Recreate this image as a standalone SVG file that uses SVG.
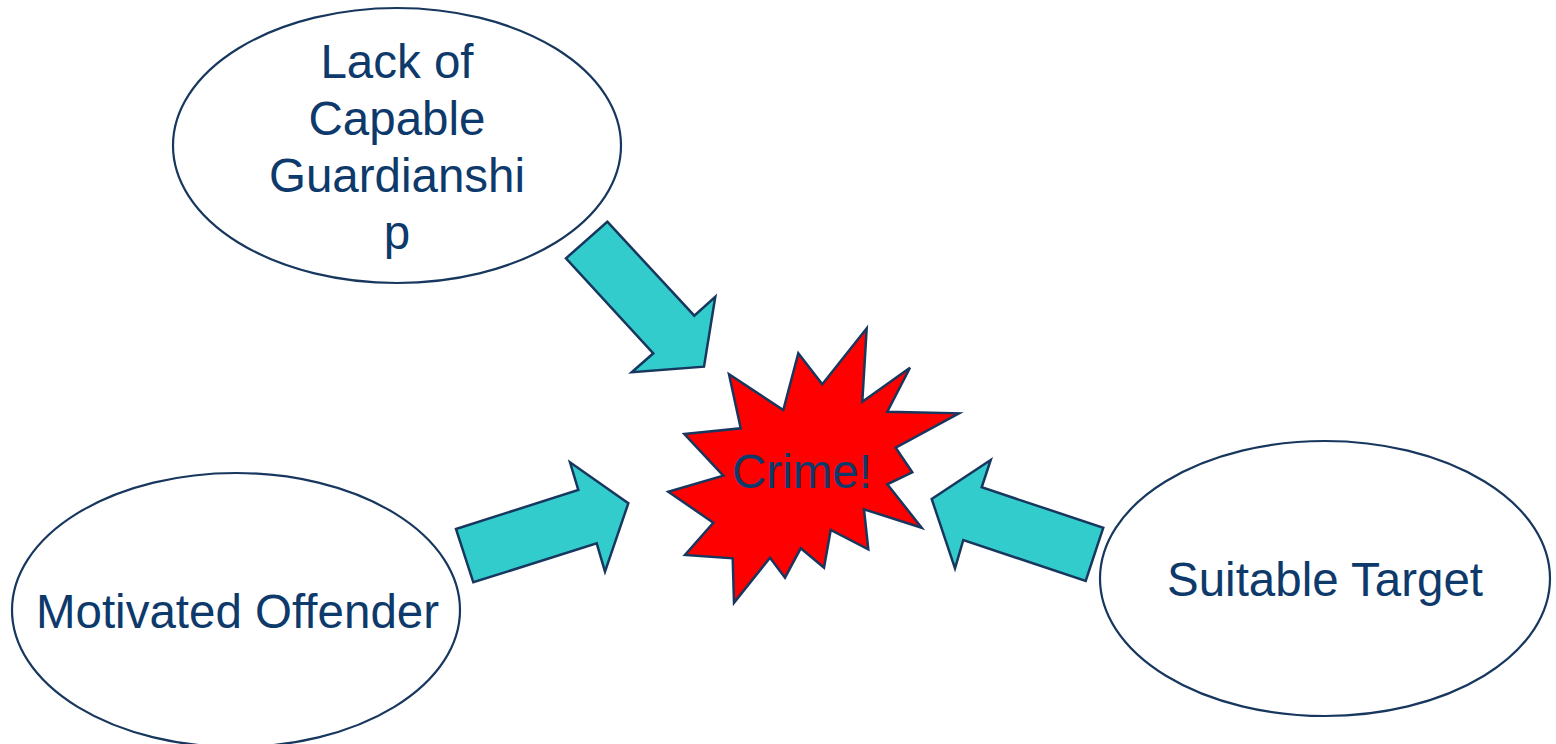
<svg xmlns="http://www.w3.org/2000/svg" width="1556" height="744" viewBox="0 0 1556 744">
<style>
.ell{fill:#FFFFFF;stroke:#17375E;stroke-width:2.2}
.arr{fill:#33CCCC;stroke:#17375E;stroke-width:2.5;stroke-linejoin:miter}
.star{fill:#FF0000;stroke:#17375E;stroke-width:2.5}
.t{font-family:"Liberation Sans",Arial,sans-serif;font-size:47.5px;fill:#0E3A6B;text-anchor:middle}
</style>
<rect width="1556" height="744" fill="#FFFFFF"/>
<g id="connectors">
<polygon class="arr" points="607.3,221.7 694.3,315.7 715.3,296.7 704,366.7 631.7,372.3 653.3,353.3 566,258.3"/>
<polygon class="arr" points="456,529 578.3,490 570,462.3 628.3,503.3 605,571.7 596.7,543.3 473.3,582.3"/>
<polygon class="arr" points="1103.3,527.7 1085.7,581 963.3,540 955,568.3 931.7,499 990.7,460 981.7,487.3"/>
</g>
<g id="guardianship">
<ellipse class="ell" cx="397" cy="145.5" rx="224" ry="137.5"/>
<text class="t" x="397" y="78">Lack of</text>
<text class="t" x="397" y="135">Capable</text>
<text class="t" x="397" y="192">Guardianshi</text>
<text class="t" x="397" y="249">p</text>
</g>
<g id="offender">
<ellipse class="ell" cx="236" cy="610" rx="224" ry="137"/>
<text class="t" x="237.5" y="628">Motivated Offender</text>
</g>
<g id="target">
<ellipse class="ell" cx="1325" cy="578.5" rx="225" ry="137.5"/>
<text class="t" x="1325" y="596">Suitable Target</text>
</g>
<g id="crime">
<polygon class="star" points="866.7,328.3 862.3,401.7 910,367.7 887.3,411.7 959,413.3 895.7,447.7 912.3,472.3 887.3,484.3 921.7,527.7 864,509.3 868.3,549.3 830.7,530 824,567.7 800.7,548.3 785,577.7 770,557.7 734,602.7 732.7,558.3 685,555 713.3,522.7 668.3,491.7 723.3,475.7 684.3,434 740.7,428.3 729,374.3 783.3,410 798.3,353.3 822.3,384.3"/>
<text class="t" x="802" y="488">Crime!</text>
</g>
</svg>
